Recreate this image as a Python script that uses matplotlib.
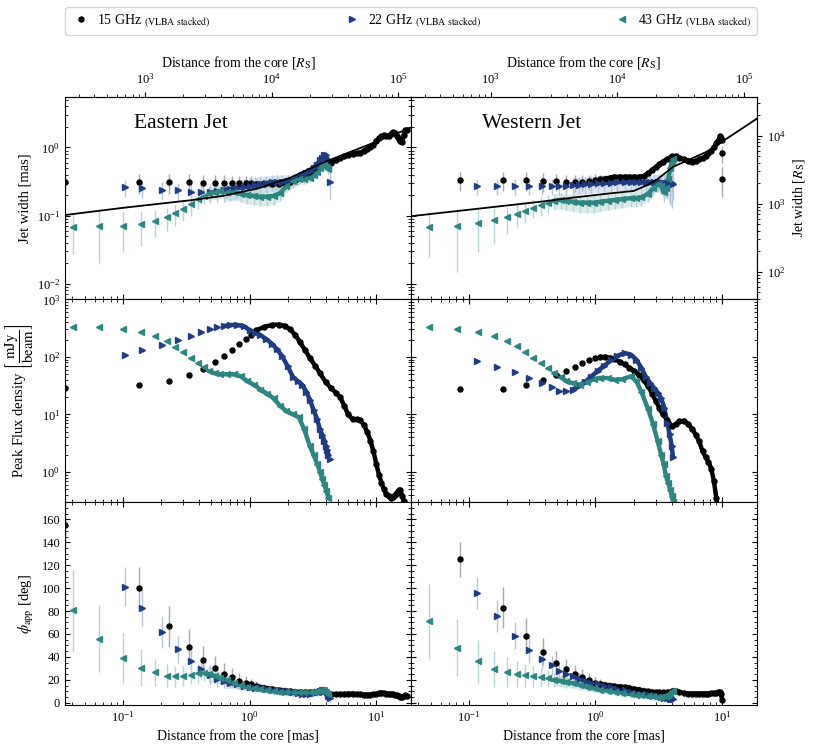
import numpy as np
import matplotlib
matplotlib.use('Agg')
import matplotlib.pyplot as plt
from matplotlib.lines import Line2D
from matplotlib.ticker import MultipleLocator

# Times-like text, as in the paper figure
plt.rcParams['font.family'] = 'serif'
plt.rcParams['font.serif'] = ['Liberation Serif', 'DejaVu Serif']
plt.rcParams['mathtext.fontset'] = 'stix'

# ---------------- eastern jet ----------------
east15_dist = [0.035, 0.133, 0.233, 0.333, 0.433, 0.533, 0.633, 0.733, 0.833, 0.933,
               1.03, 1.13, 1.3, 1.5, 1.7, 1.9, 2.1, 2.3, 2.5, 2.75,
               3.0, 3.3, 3.6, 4.0, 4.4, 4.8, 5.2, 5.6, 6.0, 6.5,
               7.0, 7.5, 8.0, 8.5, 9.0, 9.5, 10.0, 10.5, 11.0, 11.5,
               12.0, 12.5, 13.0, 13.5, 14.0, 14.5, 15.0, 15.5, 16.0, 16.5,
               17.0, 17.5]
east15_width = [0.31, 0.31, 0.31, 0.31, 0.30, 0.30, 0.30, 0.30, 0.30, 0.30,
                0.30, 0.29, 0.29, 0.29, 0.29, 0.30, 0.31, 0.33, 0.36, 0.40,
                0.44, 0.49, 0.53, 0.56, 0.60, 0.65, 0.70, 0.74, 0.78, 0.80,
                0.82, 0.84, 0.90, 0.95, 1.02, 1.10, 1.25, 1.38, 1.45, 1.50,
                1.45, 1.48, 1.58, 1.68, 1.62, 1.45, 1.35, 1.25, 1.22, 1.55,
                1.80, 1.82]
east15_width_err = [0.10, 0.10, 0.10, 0.10, 0.09, 0.09, 0.09, 0.08, 0.08, 0.08,
                    0.08, 0.05, 0.04, 0.04, 0.04, 0.04, 0.04, 0.04, 0.04, 0.04,
                    0.05, 0.05, 0.05, 0.05, 0.05, 0.05, 0.05, 0.05, 0.05, 0.05,
                    0.05, 0.05, 0.05, 0.05, 0.06, 0.06, 0.06, 0.06, 0.06, 0.06,
                    0.06, 0.06, 0.06, 0.06, 0.06, 0.06, 0.06, 0.06, 0.06, 0.06,
                    0.06, 0.06]
east15_flux = [29, 32, 38, 48, 62, 81, 104, 133, 170, 208,
               245, 290, 330, 360, 365, 345, 300, 240, 180, 130,
               95, 70, 52, 36, 29, 24, 20, 14, 10, 8.3,
               8.2, 8.0, 6.5, 5.0, 3.5, 2.3, 1.4, 0.9, 0.65, 0.5,
               0.42, 0.38, 0.36, 0.37, 0.40, 0.44, 0.48, 0.48, 0.38, 0.32,
               0.28, 0.25]
east15_pa = [155, 100, 66.5, 49, 37.5, 30.6, 25.3, 22, 19.2, 17.5,
             16, 14.5, 13, 12, 11, 10.5, 10, 9.5, 9.2, 9,
             9, 9, 9.5, 9.5, 7.5, 7.5, 7.5, 7.5, 7.8, 8,
             7.5, 7.2, 7.0, 7.0, 7.0, 7.2, 7.5, 8.2, 8.8, 8.5,
             8.0, 7.8, 7.5, 7.5, 7.0, 6.5, 5.5, 5.0, 4.8, 5.5,
             6.5, 6.0]
east15_pa_err = [20, 18, 18, 15, 12, 10, 9, 8, 7, 6,
                 5, 4, 3, 3, 3, 3, 3, 3, 3, 3,
                 2, 2, 2, 2, 2, 2, 2, 2, 2, 2,
                 2, 2, 2, 2, 2, 2, 2, 2, 2, 2,
                 2, 2, 2, 2, 2, 2, 2, 2, 2, 2,
                 2, 2]

east22_dist = [0.104, 0.142, 0.204, 0.274, 0.344, 0.414, 0.484, 0.554, 0.624, 0.70,
               0.80, 0.90, 1.0, 1.1, 1.2, 1.35, 1.5, 1.65, 1.8, 2.0,
               2.2, 2.4, 2.6, 2.8, 3.0, 3.2, 3.4, 3.6, 3.75, 3.9,
               4.0, 4.1, 4.2, 4.3]
east22_width = [0.26, 0.25, 0.24, 0.235, 0.225, 0.22, 0.225, 0.23, 0.24, 0.245,
                0.255, 0.265, 0.275, 0.285, 0.295, 0.30, 0.31, 0.31, 0.315, 0.32,
                0.33, 0.36, 0.39, 0.42, 0.45, 0.50, 0.56, 0.65, 0.71, 0.77,
                0.78, 0.68, 0.55, 0.31]
east22_width_err = [0.07, 0.07, 0.07, 0.07, 0.07, 0.07, 0.07, 0.07, 0.08, 0.08,
                    0.08, 0.08, 0.08, 0.08, 0.08, 0.08, 0.08, 0.08, 0.08, 0.08,
                    0.08, 0.08, 0.08, 0.08, 0.09, 0.09, 0.10, 0.10, 0.10, 0.10,
                    0.10, 0.12, 0.14, 0.14]
east22_flux = [108, 133, 162, 199, 233, 275, 305, 330, 345, 358,
               360, 340, 295, 265, 245, 205, 170, 135, 105, 69,
               45, 38, 33, 25, 18, 12, 8.5, 5.5, 4.4, 3.5,
               2.8, 2.4, 2.0, 1.7]
east22_pa = [101, 83, 62, 46.5, 36, 29.5, 24.5, 21, 19, 17.5,
             16, 15, 14, 13, 12.5, 12, 11.5, 11, 10.5, 10,
             9, 8.5, 8, 8, 8, 8.5, 9, 10, 11, 11.5,
             10.5, 9, 6, 4]
east22_pa_err = [17, 16, 14, 12, 10, 9, 8, 7, 6, 5,
                 4, 4, 3, 3, 3, 3, 3, 3, 3, 3,
                 3, 3, 3, 3, 3, 3, 3, 3, 3, 3,
                 3, 3, 3, 3]

east43_dist = [0.0406, 0.065, 0.10, 0.138, 0.178, 0.222, 0.26, 0.30, 0.343, 0.39,
               0.435, 0.48, 0.53, 0.59, 0.66, 0.75, 0.85, 0.96, 1.08, 1.22,
               1.38, 1.55, 1.75, 1.95, 2.2, 2.45, 2.7, 3.0, 3.2, 3.42,
               3.6, 3.75, 3.9, 4.05, 4.2]
east43_width = [0.069, 0.070, 0.071, 0.076, 0.084, 0.094, 0.11, 0.127, 0.15, 0.175,
                0.196, 0.215, 0.225, 0.23, 0.225, 0.22, 0.21, 0.20, 0.195, 0.19,
                0.19, 0.195, 0.215, 0.27, 0.32, 0.34, 0.34, 0.36, 0.40, 0.44,
                0.50, 0.56, 0.55, 0.52, 0.48]
east43_width_err = [0.042, 0.05, 0.042, 0.04, 0.035, 0.035, 0.04, 0.045, 0.05, 0.05,
                    0.05, 0.05, 0.05, 0.05, 0.05, 0.05, 0.05, 0.05, 0.05, 0.05,
                    0.05, 0.05, 0.05, 0.05, 0.05, 0.05, 0.05, 0.05, 0.05, 0.05,
                    0.06, 0.06, 0.06, 0.06, 0.06]
east43_flux = [335, 335, 310, 275, 233, 190, 150, 122, 96, 79,
               67, 57, 52, 50, 50, 50, 46, 38, 33, 27,
               23, 19, 14, 11.5, 10, 9, 5.5, 2.8, 2.0, 1.4,
               1.0, 0.75, 0.6, 0.46, 0.36]
east43_pa = [80.5, 56, 39, 30.5, 26.5, 23.7, 23, 23.7, 24.5, 25.5,
             26, 25, 23.5, 21.5, 19.5, 17.5, 15.5, 14, 13, 12,
             11, 10, 9.5, 9, 9, 9, 9, 9, 9.5, 10,
             10.5, 11.5, 11, 9.5, 8]
east43_pa_err = [35, 29, 22, 16, 12, 10, 9, 9, 8.5, 8,
                 7.5, 7, 6, 5, 5, 4, 4, 3, 3, 3,
                 3, 3, 3, 3, 3, 3, 3, 3, 3, 3,
                 3, 3, 3, 3, 3]

# ---------------- western jet ----------------
west15_dist = [0.085, 0.185, 0.285, 0.385, 0.485, 0.585, 0.685, 0.785, 0.885, 0.985,
               1.085, 1.2, 1.3, 1.4, 1.55, 1.7, 1.85, 2.0, 2.2, 2.4,
               2.6, 2.8, 3.0, 3.2, 3.4, 3.7, 4.0, 4.3, 4.6, 5.0,
               5.4, 5.8, 6.2, 6.6, 7.0, 7.4, 7.8, 8.2, 8.6, 9.0,
               9.3, 9.6, 9.8, 10.0]
west15_width = [0.33, 0.33, 0.33, 0.32, 0.32, 0.31, 0.31, 0.31, 0.32, 0.33,
                0.34, 0.35, 0.36, 0.37, 0.37, 0.37, 0.37, 0.37, 0.37, 0.38,
                0.42, 0.47, 0.52, 0.57, 0.62, 0.68, 0.74, 0.74, 0.71, 0.67,
                0.64, 0.62, 0.64, 0.67, 0.70, 0.75, 0.82, 0.90, 1.00, 1.15,
                1.25, 1.45, 1.40, 1.30]
west15_width_err = [0.10, 0.10, 0.10, 0.10, 0.09, 0.09, 0.09, 0.08, 0.08, 0.08,
                    0.05, 0.04, 0.04, 0.04, 0.04, 0.04, 0.04, 0.04, 0.04, 0.04,
                    0.05, 0.05, 0.05, 0.05, 0.05, 0.05, 0.05, 0.05, 0.05, 0.05,
                    0.05, 0.05, 0.05, 0.05, 0.05, 0.05, 0.06, 0.06, 0.06, 0.06,
                    0.06, 0.06, 0.06, 0.06]
west15_flux = [27.5, 28, 32, 39.5, 48, 57, 67, 78, 88, 96,
               100, 100, 97, 92, 83, 74, 65, 58, 48, 39,
               31, 23, 17, 13, 10, 8, 6.2, 6.8, 7.6, 7.8,
               6.8, 5.6, 4.4, 3.4, 2.3, 1.8, 1.5, 1.15, 0.7, 0.35,
               0.2, 0.15, 0.12, 0.1]
west15_pa = [125, 83, 58.5, 44.5, 35, 29, 25, 22, 19.5, 17.6,
             16.5, 15.5, 15, 14.5, 14, 13.5, 13, 12, 11.5, 10.5,
             10, 9.5, 9, 9, 9, 9.2, 10, 10.5, 9, 8.5,
             8, 8, 8, 8, 8, 8, 8, 8.2, 8.3, 8.5,
             9, 9.5, 8, 2]
west15_pa_err = [15, 18, 15, 12, 10, 9, 8, 7, 6, 5,
                 4, 3, 3, 3, 3, 3, 3, 3, 3, 3,
                 2, 2, 2, 2, 2, 2, 2, 2, 2, 2,
                 2, 2, 2, 2, 2, 2, 2, 2, 2, 2,
                 2, 2, 2, 2]
# two lone 15 GHz width points at the end of the western jet
west15_extra_dist = [9.95, 9.95]
west15_extra_width = [0.82, 0.35]
west15_extra_err = [0.22, 0.16]

west22_dist = [0.116, 0.167, 0.231, 0.30, 0.376, 0.45, 0.52, 0.59, 0.66, 0.74,
               0.82, 0.92, 1.04, 1.17, 1.32, 1.49, 1.7, 1.9, 2.1, 2.3,
               2.5, 2.7, 2.9, 3.1, 3.3, 3.5, 3.7, 3.85, 4.0, 4.1]
west22_width = [0.27, 0.27, 0.27, 0.27, 0.27, 0.27, 0.27, 0.275, 0.28, 0.285,
                0.29, 0.295, 0.30, 0.30, 0.305, 0.31, 0.31, 0.31, 0.31, 0.31,
                0.31, 0.31, 0.31, 0.31, 0.31, 0.305, 0.30, 0.30, 0.30, 0.29]
west22_width_err = [0.07, 0.07, 0.07, 0.07, 0.07, 0.07, 0.07, 0.07, 0.08, 0.08,
                    0.08, 0.08, 0.08, 0.08, 0.08, 0.08, 0.08, 0.08, 0.08, 0.08,
                    0.08, 0.08, 0.09, 0.09, 0.10, 0.11, 0.12, 0.15, 0.17, 0.12]
west22_flux = [85, 67, 54.5, 43, 35, 30, 26, 26, 27, 31,
               36, 45, 57, 70, 87, 105, 117, 110, 90, 65,
               45, 35, 29, 24, 19, 13, 7, 4.5, 2.8, 1.8]
west22_pa = [96, 76, 58.5, 46, 38, 32.5, 28, 25, 23, 21,
             19, 17, 16, 15, 13.5, 12, 11, 9.5, 8.7, 8,
             7.5, 7, 6.5, 6, 5, 4.5, 4, 3.5, 3.5, 3.5]
west22_pa_err = [14, 14, 12, 11, 9, 8, 7, 6, 5, 5,
                 4, 4, 3, 3, 3, 3, 3, 3, 3, 3,
                 3, 3, 3, 3, 3, 3, 3, 3, 3, 3]

west43_dist = [0.049, 0.081, 0.118, 0.158, 0.20, 0.24, 0.277, 0.32, 0.37, 0.42,
               0.47, 0.53, 0.59, 0.66, 0.75, 0.85, 0.97, 1.09, 1.25, 1.43,
               1.63, 1.9, 2.1, 2.3, 2.6, 2.85, 3.1, 3.3, 3.45, 3.6,
               3.75, 3.9, 4.0, 4.1]
west43_width = [0.069, 0.070, 0.079, 0.085, 0.094, 0.107, 0.118, 0.131, 0.145, 0.155,
                0.165, 0.17, 0.165, 0.16, 0.155, 0.155, 0.155, 0.16, 0.165, 0.17,
                0.175, 0.18, 0.18, 0.185, 0.21, 0.25, 0.29, 0.27, 0.22, 0.25,
                0.35, 0.50, 0.62, 0.67]
west43_width_err = [0.044, 0.055, 0.05, 0.045, 0.04, 0.04, 0.04, 0.04, 0.045, 0.045,
                    0.045, 0.045, 0.045, 0.045, 0.045, 0.045, 0.045, 0.045, 0.045, 0.045,
                    0.045, 0.045, 0.045, 0.045, 0.05, 0.05, 0.06, 0.06, 0.06, 0.06,
                    0.07, 0.08, 0.08, 0.08]
west43_flux = [335, 300, 275, 233, 190, 155, 122, 96, 78, 64,
               52, 44.5, 38, 35, 33, 36, 41, 43, 43, 40,
               41, 46, 38, 25, 12.5, 6.8, 3.4, 2.0, 1.4, 0.85,
               0.65, 0.48, 0.38, 0.3]
west43_pa = [71, 48, 36, 29.5, 26.5, 25, 23.8, 23, 22.5, 21.5,
             20, 19, 18, 17, 15.5, 14, 12.5, 11.5, 10.5, 9.5,
             8.5, 7.5, 7, 6.5, 6, 5.5, 5.2, 5.2, 5.5, 6,
             7, 8.5, 10, 10.5]
west43_pa_err = [33, 25, 19, 16, 13, 11, 10, 9, 8, 7,
                 6, 5, 5, 4, 4, 4, 3, 3, 3, 3,
                 3, 3, 3, 3, 3, 3, 3, 3, 3, 3,
                 3, 3, 3, 3]

# broken power-law fits of the jet width (black lines)
east_fit_dist = [0.035, 0.1, 0.343, 0.62, 1.16, 2.1, 3.8, 8.0, 18.8]
east_fit_width = [0.102, 0.13, 0.168, 0.195, 0.25, 0.36, 0.6, 1.03, 1.95]
west_fit_dist = [0.035, 0.37, 0.67, 1.24, 2.0, 2.56, 3.07, 4.1, 7.6, 18.8]
west_fit_width = [0.098, 0.16, 0.184, 0.21, 0.23, 0.28, 0.34, 0.52, 0.87, 2.65]

rs_per_mas = 6700.0
rs_ticks = [1e2, 1e3, 1e4, 1e5]

styles = {15: dict(color='black', ecolor='#a8a8a8', marker='o', ms=3.6, z=0.0),
          22: dict(color='#1f3b82', ecolor='#b6c4de', marker='>', ms=4.2, z=0.1),
          43: dict(color='#2e8682', ecolor='#b4d6d4', marker='<', ms=4.2, z=0.2)}

# (dist, width, width_err, flux, pa, pa_err, dense range)
east = {15: (east15_dist, east15_width, east15_width_err, east15_flux, east15_pa, east15_pa_err, (1.1, 99)),
        22: (east22_dist, east22_width, east22_width_err, east22_flux, east22_pa, east22_pa_err, (0.6, 4.25)),
        43: (east43_dist, east43_width, east43_width_err, east43_flux, east43_pa, east43_pa_err, (0.45, 99))}
west = {15: (west15_dist, west15_width, west15_width_err, west15_flux, west15_pa, west15_pa_err, (1.05, 99)),
        22: (west22_dist, west22_width, west22_width_err, west22_flux, west22_pa, west22_pa_err, (0.62, 99)),
        43: (west43_dist, west43_width, west43_width_err, west43_flux, west43_pa, west43_pa_err, (0.45, 99))}


def draw(ax, x, y, err, freq, dense_rng):
    st = styles[freq]
    x = np.asarray(x, float)
    y = np.asarray(y, float)
    dense = (x >= dense_rng[0]) & (x <= dense_rng[1])
    if err is not None:
        err = np.asarray(err, float)
        ax.errorbar(x, y, yerr=err, fmt='none', ecolor=st['ecolor'], elinewidth=1.0, zorder=1)
        ax.fill_between(x[dense], (y - err)[dense], (y + err)[dense],
                        color=st['ecolor'], alpha=0.45, lw=0, zorder=1)
    ax.plot(x[dense], y[dense], color=st['color'], lw=3.2,
            solid_joinstyle='round', solid_capstyle='round', zorder=2 + st['z'])
    ax.plot(x, y, ls='none', marker=st['marker'], ms=st['ms'], color=st['color'],
            zorder=3 + st['z'])


fig, axes = plt.subplots(3, 2, figsize=(8.13, 7.54), dpi=100, sharex=True, sharey='row')
fig.subplots_adjust(left=0.080, right=0.931, bottom=0.065, top=0.872, hspace=0, wspace=0)

for col, side in enumerate([east, west]):
    for freq in [15, 22, 43]:
        d, w, we, f, pa, pae, rng = side[freq]
        draw(axes[0, col], d, w, we, freq, rng)
        draw(axes[1, col], d, f, None, freq, rng)
        draw(axes[2, col], d, pa, pae, freq, rng)

# lone points of the western 15 GHz width
axes[0, 1].errorbar(west15_extra_dist, west15_extra_width, yerr=west15_extra_err, fmt='o',
                    ms=3.6, color='black', ecolor='#a8a8a8', elinewidth=1.0, zorder=3)

axes[0, 0].plot(east_fit_dist, east_fit_width, color='black', lw=1.3, zorder=5)
axes[0, 1].plot(west_fit_dist, west_fit_width, color='black', lw=1.3, zorder=5)

for ax in axes.flat:
    ax.set_xscale('log')
    ax.set_xlim(0.035, 18.8)
    ax.tick_params(which='both', direction='in', top=True, right=True, labelsize=9)

for ax in axes[0]:
    ax.set_yscale('log')
    ax.set_ylim(0.0059, 5.6)
    ax.tick_params(which='both', top=False)
    sec = ax.secondary_xaxis('top', functions=(lambda x: x * rs_per_mas, lambda x: x / rs_per_mas))
    sec.set_xticks(rs_ticks[1:])
    sec.tick_params(which='both', direction='out', labelsize=9)
    sec.set_xlabel(r'Distance from the core [$R_{\mathrm{S}}$]', fontsize=10)
axes[0, 1].tick_params(which='both', right=False)
secy = axes[0, 1].secondary_yaxis('right', functions=(lambda x: x * rs_per_mas, lambda x: x / rs_per_mas))
secy.set_yticks(rs_ticks[:3])
secy.tick_params(which='both', direction='out', labelsize=9)
secy.set_ylabel(r'Jet width [$R_{\mathrm{S}}$]', fontsize=10)

for ax in axes[1]:
    ax.set_yscale('log')
    ax.set_ylim(0.3, 1000)

for ax in axes[2]:
    ax.set_ylim(-2, 175)
    ax.yaxis.set_major_locator(MultipleLocator(20))
    ax.yaxis.set_minor_locator(MultipleLocator(5))
    ax.set_xlabel('Distance from the core [mas]', fontsize=10)

axes[0, 0].set_ylabel('Jet width [mas]', fontsize=10.5)
axes[1, 0].set_ylabel(r'Peak Flux density $\left[\dfrac{\mathrm{mJy}}{\mathrm{beam}}\right]$', fontsize=10.5)
axes[2, 0].set_ylabel(r'$\phi_{\mathrm{app}}$ [deg]', fontsize=10.5)

axes[0, 0].text(0.2, 0.846, 'Eastern Jet', transform=axes[0, 0].transAxes, fontsize=15.5, va='baseline')
axes[0, 1].text(0.205, 0.846, 'Western Jet', transform=axes[0, 1].transAxes, fontsize=15.5, va='baseline')

handles = [Line2D([], [], ls='none', marker=styles[f]['marker'], ms=styles[f]['ms'],
                  color=styles[f]['color']) for f in [15, 22, 43]]
labels = [r'15 GHz $_{\mathrm{(VLBA\ stacked)}}$',
          r'22 GHz $_{\mathrm{(VLBA\ stacked)}}$',
          r'43 GHz $_{\mathrm{(VLBA\ stacked)}}$']
fig.legend(handles, labels, loc='lower left', bbox_to_anchor=(0.080, 0.953, 0.851, 0.032),
           mode='expand', ncol=3, fontsize=10, borderaxespad=0., handletextpad=0.4,
           handlelength=1.5)

fig.savefig('out.png', dpi=100)
